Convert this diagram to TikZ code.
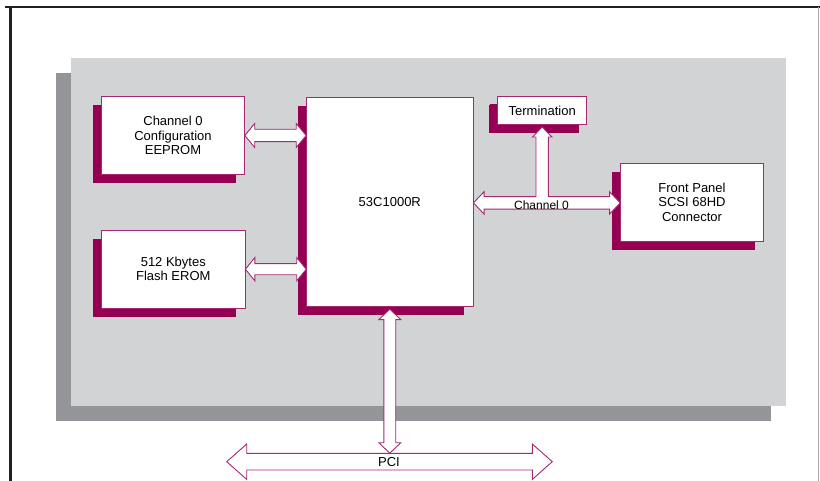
\documentclass[tikz,border=0pt]{standalone}
\usepackage{fontspec}
\setmainfont{Liberation Sans}
\usetikzlibrary{calc,shadows}
\definecolor{mag}{RGB}{150,0,82}
\definecolor{magline}{RGB}{165,40,115}
\definecolor{lgray}{RGB}{209,211,212}
\definecolor{dgray}{RGB}{147,149,152}
\definecolor{frame}{RGB}{35,31,32}
\tikzset{
  blk/.style={draw=magline, line width=0.9pt, fill=white, inner sep=0pt, align=center,
    font=\fontsize{13}{14.3}\selectfont,
    drop shadow={shadow xshift=-8.5pt, shadow yshift=-8.5pt, fill=mag, opacity=1, draw=none}},
  dblarrow/.style={draw=magline, line width=0.9pt, fill=white, line join=miter},
  lbl/.style={inner sep=0pt, font=\fontsize{13}{14.3}\selectfont}
}
% horizontal double arrow: #1 left tip, #2 right tip, #3 shaft half, #4 head half, #5 head length
\newcommand\hdarrow[5]{%
  \draw[dblarrow] let \p1=#1, \p2=#2 in
    (\x1,\y1) -- (\x1+#5,\y1+#4) -- (\x1+#5,\y1+#3) -- (\x2-#5,\y1+#3) -- (\x2-#5,\y1+#4)
    -- (\x2,\y1) -- (\x2-#5,\y1-#4) -- (\x2-#5,\y1-#3) -- (\x1+#5,\y1-#3) -- (\x1+#5,\y1-#4) -- cycle;}
% vertical double arrow: #1 top tip, #2 bottom tip
\newcommand\vdarrow[5]{%
  \draw[dblarrow] let \p1=#1, \p2=#2 in
    (\x1,\y1) -- (\x1+#4,\y1-#5) -- (\x1+#3,\y1-#5) -- (\x1+#3,\y2+#5) -- (\x1+#4,\y2+#5)
    -- (\x1,\y2) -- (\x1-#4,\y2+#5) -- (\x1-#3,\y2+#5) -- (\x1-#3,\y1-#5) -- (\x1-#4,\y1-#5) -- cycle;}
\begin{document}
\begin{tikzpicture}[x=1pt,y=-1pt]
\useasboundingbox (0,0) rectangle (820,481);
% frame
\draw[frame, line width=2.5pt] (5,7) -- (820,7);
\draw[frame, line width=3pt] (10,5.8) -- (10,481);
\draw[dgray!80, line width=1pt] (818.8,7) -- (818.8,481);
% panel
\fill[dgray] (56,73) rectangle (771,421);
\fill[lgray] (71,58) rectangle (786,406);
% blocks
\node[blk, minimum width=142.6pt, minimum height=77.6pt] (eeprom) at (173,135.5)
  {Channel 0\\Configuration\\EEPROM};
\node[blk, minimum width=143.3pt, minimum height=78.3pt] (flash) at (173.3,269.2)
  {512 Kbytes\\Flash EROM};
\node[blk, minimum width=166.3pt, minimum height=209.4pt] (chip) at (389.8,202)
  {53C1000R};
\node[blk, minimum width=89pt, minimum height=28.3pt,
  drop shadow={shadow xshift=-7.8pt, shadow yshift=-7.8pt, fill=mag, opacity=1, draw=none}] (term) at (542.2,110.8)
  {Termination};
\node[blk, minimum width=142.6pt, minimum height=77.7pt] (front) at (692,202.2)
  {Front Panel\\SCSI 68HD\\Connector};
% arrows to chip
\hdarrow{(eeprom.east)}{(chip.west |- eeprom.east)}{6.2}{12}{10}
\hdarrow{(flash.east)}{(chip.west |- flash.east)}{5.6}{11.7}{9.5}
% channel 0 T arrow
\coordinate (ttip) at ([yshift=-1.6pt]term.south);
\draw[dblarrow] let \p1=(chip.east |- 0,202.9), \p2=(front.west |- 0,202.9), \p3=(ttip) in
  (\x1,\y1) -- (\x1+10.7,\y1+11.2) -- (\x1+10.7,\y1+6.3)
  -- (\x3-6.2,\y1+6.3) -- (\x3-6.2,\y3-10) -- (\x3-9.7,\y3-10) -- (\x3,\y3)
  -- (\x3+9.7,\y3-10) -- (\x3+6.2,\y3-10) -- (\x3+6.2,\y1+6.3)
  -- (\x2-10.7,\y1+6.3) -- (\x2-10.7,\y1+11.2) -- (\x2,\y1)
  -- (\x2-10.7,\y1-11.2) -- (\x2-10.7,\y1-6.3) -- (\x1+10.7,\y1-6.3) -- (\x1+10.7,\y1-11.2) -- cycle;
\node[lbl, font=\fontsize{12}{13}\selectfont] (ch0) at (541.5,204.8) {Channel 0};
% PCI bus
\coordinate (pcil) at (226.7,461.7);
\coordinate (pcir) at (552.3,461.7);
\coordinate (pcitop) at (389,453.2);
\hdarrow{(pcil)}{(pcir)}{8.3}{17.7}{20}
\node[lbl] (pci) at (389,462.3) {PCI};
\vdarrow{([yshift=-2pt]chip.south)}{(chip.south |- pcitop)}{5.9}{11}{10.5}
\end{tikzpicture}
\end{document}
